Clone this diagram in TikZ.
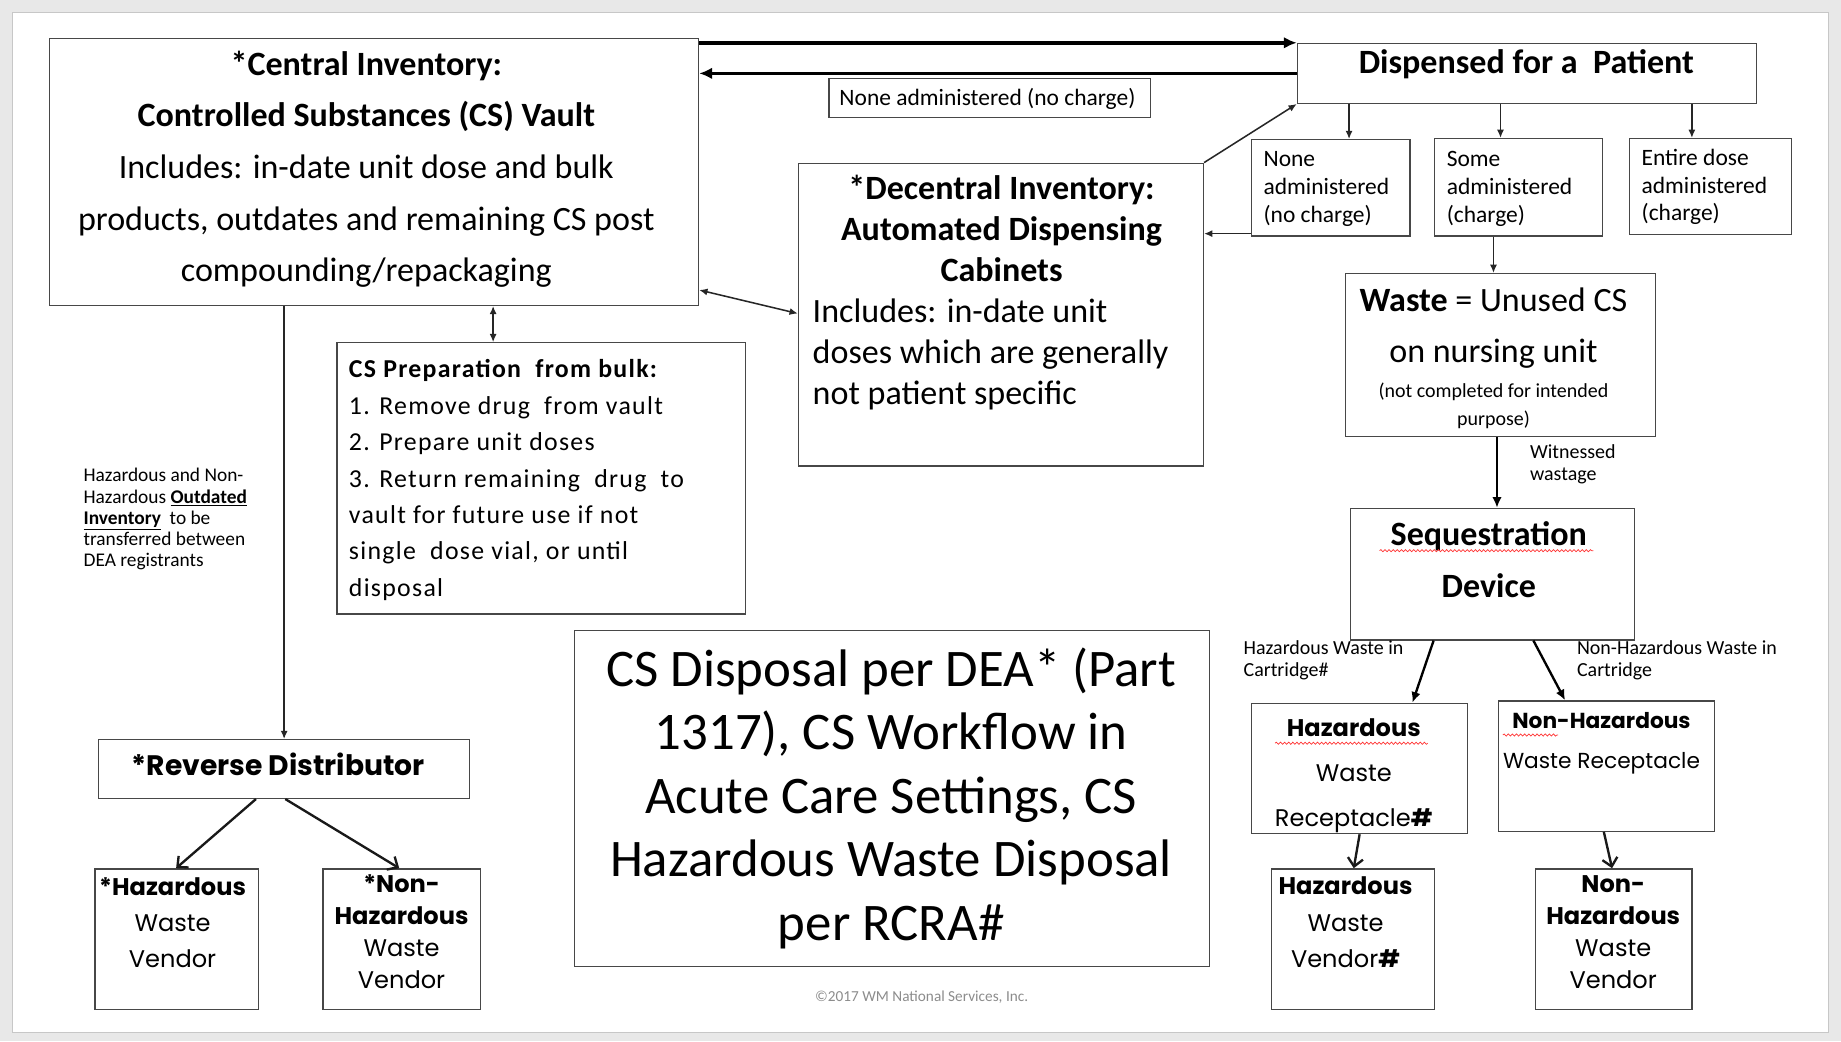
\documentclass[tikz,border=0pt]{standalone}
\usepackage{fontspec}
\setmainfont{Carlito}
\newfontfamily\geo{Poppins}
\usetikzlibrary{arrows.meta,calc,decorations.pathmorphing}
\newcommand\tstr{\rule{0pt}{0.8em}}
\newcommand\boxat[5]{\node[box, minimum width={#4-#2}, minimum height={#5-#3}] (#1) at ({(#2+#4)/2},{(#3+#5)/2}) {};}
\tikzset{
  box/.style={draw=black!72, line width=1.1pt, fill=white, inner sep=0pt},
  ctxt/.style={inner sep=0pt, align=center, anchor=north},
  ltxt/.style={inner sep=0pt, align=left, anchor=north west},
  arr/.style={draw=black!85, line width=1.3pt, -{Latex[length=7pt,width=6pt]}},
  darr/.style={draw=black!85, line width=1.3pt, {Latex[length=7pt,width=6pt]}-{Latex[length=7pt,width=6pt]}},
  bigarr/.style={draw=black, line width=3pt, -{Latex[length=11pt,width=10pt]}},
  midarr/.style={draw=black, line width=2pt, -{Latex[length=9pt,width=8pt]}},
  barbarr/.style={draw=black!90, line width=2pt, -{Straight Barb[length=7pt,width=13pt]}},
  wavy/.style={draw=red!80, line width=0.6pt, decorate, decoration={snake, amplitude=0.9pt, segment length=3.5pt}}
}
\begin{document}
\begin{tikzpicture}[x=1pt,y=-1pt]
\useasboundingbox (0,0) rectangle (1568,887);
\fill[black!9] (0,0) rectangle (1568,887);
\draw[black!22, fill=white, line width=0.8pt] (11,11) rectangle (1557,879);

% boxes
\boxat{central}{42}{33}{595}{260}
\boxat{dispensed}{1105}{37}{1496}{88}
\boxat{noneLabel}{706}{67}{980}{100}
\boxat{noneA}{1066}{119}{1201}{201}
\boxat{someA}{1222}{118}{1365}{201}
\boxat{entireA}{1388}{118}{1526}{200}
\boxat{decentral}{680}{139}{1025}{397}
\boxat{prep}{287}{292}{635}{523}
\boxat{rd}{84}{630}{400}{680}
\boxat{hv}{81}{740}{220}{860}
\boxat{nhv}{275}{740}{409}{860}
\boxat{title}{489}{537}{1030}{823}
\boxat{waste}{1146}{233}{1410}{372}
\boxat{seq}{1150}{433}{1392}{545}
\boxat{hrec}{1066}{599}{1250}{710}
\boxat{nhrec}{1276}{597}{1460}{708}
\boxat{hvend}{1083}{740}{1222}{860}
\boxat{nhvend}{1308}{740}{1441}{860}

% texts
\node[ctxt, font={\fontsize{29}{44}\selectfont}] (centralText) at (312,40.5)
  {\tstr\textbf{*Central Inventory:}\\ \textbf{Controlled Substances (CS) Vault}\\ Includes: in-date unit dose and bulk\\ products, outdates and remaining CS post\\ compounding/repackaging};
\node[ctxt, font={\fontsize{29}{44}\selectfont\bfseries}] (dispText) at (1300,39.5) {\tstr Dispensed for a\ \ Patient};
\node[ctxt, font={\fontsize{20}{24}\selectfont}] (noneLabelText) at (841,74) {\tstr None administered (no charge)};
\node[ltxt, font={\fontsize{20}{23.5}\selectfont}] (noneAText) at (1076,126) {\tstr None\\administered\\(no charge)};
\node[ltxt, font={\fontsize{20}{23.5}\selectfont}] (someAText) at (1232,126) {\tstr Some\\administered\\(charge)};
\node[ltxt, font={\fontsize{20}{23.5}\selectfont}] (entireAText) at (1398,125) {\tstr Entire dose\\administered\\(charge)};
\node[ctxt, font={\fontsize{29}{35}\selectfont\bfseries}] (decTitle) at (853,146.5) {\tstr *Decentral Inventory:\\Automated Dispensing\\Cabinets};
\node[ltxt, font={\fontsize{29}{35}\selectfont}] (decBody) at (692,251.5) {\tstr Includes: in-date unit\\doses which are generally\\not patient specific};
\node[ltxt, font={\fontsize{22}{31}\selectfont\addfontfeature{LetterSpace=5}}] (prepText) at (297,304)
  {\tstr\textbf{CS Preparation\ \ from bulk:}\\1. Remove drug\ \ from vault\\2. Prepare unit doses\\3. Return remaining\ \ drug\ \ to\\vault for future use if not\\single\ \ dose vial, or until\\disposal};
\node[ltxt, font={\fontsize{16.5}{18}\selectfont}] (outdatedText) at (71,397)
  {\tstr Hazardous and Non-\\Hazardous \textbf{\underline{Outdated}}\\\textbf{\underline{Inventory}}\ \ to be\\transferred between\\DEA registrants};
\node[ctxt, font={\geo\fontsize{24}{28}\selectfont\bfseries}] (rdText) at (237,641) {\tstr *Reverse Distributor};
\node[ctxt, font={\geo\fontsize{20.5}{30.5}\selectfont}] (hvText) at (147,746.5) {\tstr\textbf{*Hazardous}\\Waste\\Vendor};
\node[ctxt, font={\geo\fontsize{20.5}{27.3}\selectfont}] (nhvText) at (342,743.5) {\tstr\textbf{*Non-}\\\textbf{Hazardous}\\Waste\\Vendor};
\node[ctxt, font={\fontsize{45}{54}\selectfont}] (titleText) at (759,548.5)
  {\tstr CS Disposal per DEA* (Part\\1317), CS Workflow in\\Acute Care Settings, CS\\Hazardous Waste Disposal\\per RCRA\#};
\node[ctxt, font={\fontsize{13}{15}\selectfont}, text=black!45] (copyText) at (785,842.5) {\tstr ©2017 WM National Services, Inc.};
\node[ctxt, font={\fontsize{29}{44}\selectfont}] (wasteTextA) at (1272,241.5) {\tstr\textbf{Waste} = Unused CS\\on nursing unit};
\node[ctxt, font={\fontsize{17}{24}\selectfont}] (wasteTextB) at (1272,324.5) {\tstr(not completed for intended\\purpose)};
\node[ltxt, font={\fontsize{17}{19}\selectfont}] (witText) at (1303,376.5) {\tstr Witnessed\\wastage};
\node[ctxt, font={\fontsize{29}{44}\selectfont\bfseries}] (seqText) at (1268,441.5) {\tstr Sequestration\\Device};
\node[ltxt, font={\fontsize{17}{19}\selectfont}] (hcartText) at (1059,543.5) {\tstr Hazardous Waste in\\Cartridge\#};
\node[ltxt, font={\fontsize{17}{19}\selectfont}] (nhcartText) at (1343,543.5) {\tstr Non-Hazardous Waste in\\Cartridge};
\node[ctxt, font={\geo\fontsize{20.5}{38.5}\selectfont}] (hrecText) at (1153,610.5) {\tstr\textbf{Hazardous}\\Waste\\Receptacle\textbf{\#}};
\node[ctxt, font={\geo\fontsize{18.5}{34}\selectfont}] (nhrecText) at (1364,605.5) {\tstr\textbf{Non-Hazardous}\\Waste Receptacle};
\node[ctxt, font={\geo\fontsize{20.5}{31}\selectfont}] (hvendText) at (1146,745.5) {\tstr\textbf{Hazardous}\\Waste\\Vendor\textbf{\#}};
\node[ctxt, font={\geo\fontsize{20.5}{27.3}\selectfont}] (nhvendText) at (1374,743.5) {\tstr\textbf{Non-}\\\textbf{Hazardous}\\Waste\\Vendor};

% spell-check underlines
\draw[wavy] (1175,469) -- (1357,469);
\draw[wavy] (1086,633) -- (1216,633);
\draw[wavy] (1280,626) -- (1327,626);

% connectors
\draw[bigarr] (central.east |- dispensed.north west) -- (dispensed.north west);
\draw[bigarr] (dispensed.west) -- (central.east |- dispensed.west);
\draw[arr] (decentral.north east) -- (dispensed.south west);
\draw[arr] (dispensed.south -| 1149,0) -- (noneA.north -| 1149,0);
\draw[arr] (dispensed.south -| 1278,0) -- (someA.north -| 1278,0);
\draw[arr] (dispensed.south -| 1441,0) -- (entireA.north -| 1441,0);
\draw[arr] (noneA.west |- 0,199) -- (decentral.east |- 0,199);
\draw[darr] (central.east |- 0,247) -- (decentral.west |- 0,267);
\draw[darr] (central.south -| 420,0) -- (prep.north -| 420,0);
\draw[arr] (central.south -| rd.north) -- (rd.north);
\draw[barbarr] (rd.south -| 218,0) -- (hv.north -| 150,0);
\draw[barbarr] (rd.south -| 243,0) -- (nhv.north -| 340,0);
\draw[arr] (someA.south -| 1272,0) -- (waste.north -| 1272,0);
\draw[midarr] (waste.south -| 1275,0) -- (seq.north -| 1275,0);
\draw[midarr] (seq.south -| 1221,0) -- (hrec.north -| 1203,0);
\draw[midarr] (seq.south -| 1306,0) -- (nhrec.north -| 1333,0);
\draw[barbarr] (hrec.south -| 1158,0) -- (hvend.north -| 1153,0);
\draw[barbarr] (nhrec.south -| 1366,0) -- (nhvend.north -| 1373,0);
\end{tikzpicture}
\end{document}
